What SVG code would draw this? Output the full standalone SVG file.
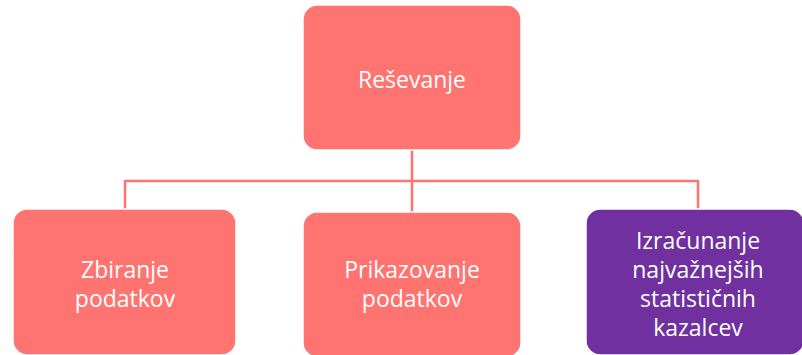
<svg xmlns="http://www.w3.org/2000/svg" width="802" height="355" viewBox="0 0 802 355">
<style>
.box{stroke:#ffffff;stroke-width:1.5}
.coral{fill:#FF7371}
.purple{fill:#7030A0}
.t{font-family:"Open Sans","Liberation Sans",sans-serif;font-size:23px;fill:#ffffff;text-anchor:middle}
.c{fill:none;stroke:#FF7371;stroke-width:2.5}
</style>
<rect width="802" height="355" fill="#ffffff"/>
<g id="connectors">
<path class="c" d="M412 150 V212"/>
<path class="c" d="M125 181 H698"/>
<path class="c" d="M125 180 V209"/>
<path class="c" d="M698 180 V209"/>
</g>
<g id="resevanje">
<rect class="box coral" x="303" y="5" width="218" height="145" rx="14"/>
<text class="t" x="412" y="88">Reševanje</text>
</g>
<g id="zbiranje">
<rect class="box coral" x="13" y="209" width="223" height="146" rx="14"/>
<text class="t" x="125" y="278">Zbiranje</text>
<text class="t" x="125" y="307">podatkov</text>
</g>
<g id="prikazovanje">
<rect class="box coral" x="303" y="212" width="218" height="145" rx="14"/>
<text class="t" x="412" y="278">Prikazovanje</text>
<text class="t" x="412" y="307">podatkov</text>
</g>
<g id="izracunanje">
<rect class="box purple" x="586" y="209" width="218" height="146" rx="14"/>
<text class="t" x="698" y="249">Izračunanje</text>
<text class="t" x="698" y="278">najvažnejših</text>
<text class="t" x="698" y="307">statističnih</text>
<text class="t" x="698" y="336">kazalcev</text>
</g>
</svg>
